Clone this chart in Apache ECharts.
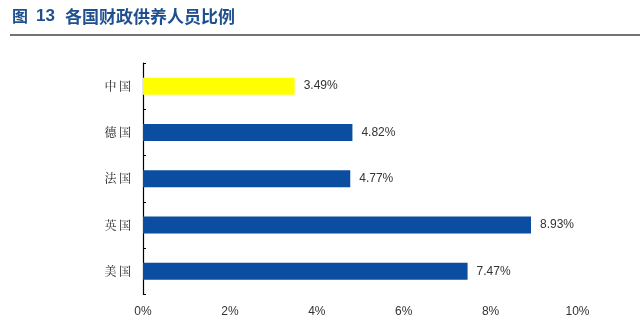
<!DOCTYPE html>
<html>
<head>
<meta charset="utf-8">
<script src="https://cdn.jsdelivr.net/npm/echarts@6/dist/echarts.min.js"></script>
<style>
  html, body { margin: 0; padding: 0; background: #fff; }
  #chart { width: 640px; height: 329px; }
</style>
</head>
<body>
<div id="chart"></div>
<script>
// Share of government-funded personnel by country (%)
const countries = ['中国', '德国', '法国', '英国', '美国'];
const shares = [3.49, 4.82, 4.77, 8.93, 7.47];
const xTicks = [0, 2, 4, 6, 8, 10];

const highlight = '中国';
const titleFont = {
  fontFamily: 'Noto Sans CJK SC',
  fontWeight: 'bold',
  fill: '#1f4f8f'
};

const chart = echarts.init(document.getElementById('chart'), null, { renderer: 'canvas' });

chart.setOption({
  animation: false,
  backgroundColor: '#ffffff',
  graphic: [
    { type: 'text', left: 12, top: 8, style: Object.assign({ text: '图', fontSize: 16 }, titleFont) },
    { type: 'text', left: 36, top: 8, style: Object.assign({ text: '13', fontSize: 17, fontFamily: 'Liberation Sans' }, { fontWeight: 'bold', fill: '#1f4f8f' }) },
    { type: 'text', left: 65, top: 8, style: Object.assign({ text: '各国财政供养人员比例', fontSize: 17 }, titleFont) },
    {
      type: 'line',
      shape: { x1: 10, y1: 35, x2: 640, y2: 35 },
      style: { stroke: '#444', lineWidth: 1.5 }
    }
  ],
  grid: { left: 143, right: 62.5, top: 63, bottom: 34.5, containLabel: false },
  xAxis: {
    type: 'value',
    min: xTicks[0],
    max: xTicks[xTicks.length - 1],
    interval: 2,
    axisLine: { show: false },
    axisTick: { show: false },
    splitLine: { show: false },
    axisLabel: {
      formatter: v => v + '%',
      fontFamily: '"Liberation Sans", Arial',
      fontSize: 12,
      color: '#333',
      margin: 11
    }
  },
  yAxis: {
    type: 'category',
    inverse: true,
    data: countries,
    axisLine: { show: true, lineStyle: { color: '#000', width: 1.2 } },
    axisTick: { show: true, inside: true, length: 3, lineStyle: { color: '#000' } },
    axisLabel: {
      formatter: v => v.split('').join('\u2009'),
      fontFamily: '"Noto Serif CJK SC", "Noto Sans CJK SC"',
      fontSize: 12,
      color: '#222',
      margin: 12
    }
  },
  series: [{
    type: 'bar',
    barWidth: 17,
    data: shares.map((v, i) => ({
      value: v,
      itemStyle: { color: countries[i] === highlight ? '#ffff00' : '#0b4da1' }
    })),
    label: {
      show: true,
      position: 'right',
      distance: 9,
      formatter: p => p.value.toFixed(2) + '%',
      fontFamily: '"Liberation Sans", Arial',
      fontSize: 12,
      color: '#333'
    }
  }]
});
</script>
</body>
</html>
